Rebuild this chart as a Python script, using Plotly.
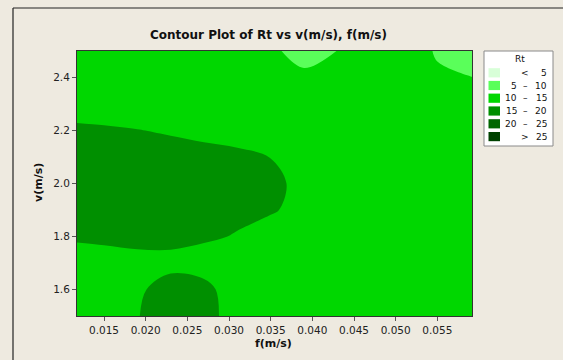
import plotly.graph_objects as go

# ---- data ----
f_vals = [0.011, 0.015, 0.019, 0.023, 0.027, 0.031, 0.035, 0.039, 0.043, 0.047, 0.051, 0.055, 0.059, 0.063]
v_vals = [1.5, 1.6, 1.7, 1.8, 1.9, 2.0, 2.1, 2.2, 2.3, 2.4, 2.5]
rt_v150 = [12.5, 12.6, 14.72, 18.5, 17.5, 11.94, 12.5, 12.4, 12.3, 12.3, 12.4, 12.5, 12.6, 12.6]
rt_v160 = [12.3, 12.5, 13.86, 18.0, 17.0, 11.3, 12.4, 12.4, 12.3, 12.3, 12.4, 12.5, 12.6, 12.6]
rt_v170 = [11.8, 11.9, 12.83, 13.0, 12.0, 12.6, 12.5, 12.5, 12.4, 12.4, 12.5, 12.6, 12.7, 12.7]
rt_v180 = [15.8, 16.5, 17.0, 17.0, 16.0, 14.58, 12.3, 12.5, 12.5, 12.5, 12.6, 12.7, 12.8, 12.8]
rt_v190 = [17.0, 17.5, 18.0, 18.0, 17.5, 16.5, 15.6, 13.2, 12.8, 12.7, 12.7, 12.8, 12.9, 12.9]
rt_v200 = [17.5, 18.0, 18.5, 18.5, 18.0, 17.0, 16.2, 13.67, 13.0, 12.8, 12.8, 12.9, 13.0, 13.0]
rt_v210 = [17.0, 17.5, 17.5, 17.0, 16.5, 16.0, 14.94, 13.2, 12.9, 12.8, 12.8, 12.9, 12.9, 12.9]
rt_v220 = [16.0, 15.8, 15.16, 14.5, 13.8, 13.14, 13.0, 12.8, 12.7, 12.7, 12.7, 12.7, 12.6, 12.5]
rt_v230 = [12.7, 11.8, 12.0, 12.5, 12.5, 12.5, 12.5, 12.3, 12.5, 12.8, 12.5, 12.2, 12.0, 11.8]
rt_v240 = [12.5, 12.4, 12.5, 12.6, 12.6, 12.5, 12.5, 11.0, 12.0, 12.5, 12.0, 10.39, 10.15, 9.5]
rt_v250 = [12.3, 12.3, 12.4, 12.5, 12.5, 12.0, 10.87, 8.2, 10.05, 11.8, 11.5, 9.74, 6.5, 6.0]
rt_grid = [rt_v150, rt_v160, rt_v170, rt_v180, rt_v190, rt_v200, rt_v210, rt_v220, rt_v230, rt_v240, rt_v250]

band_low = ["", "5", "10", "15", "20", ""]
band_sym = ["<", "\u2013", "\u2013", "\u2013", "\u2013", ">"]
band_high = ["5", "10", "15", "20", "25", "25"]
band_colors = ["#d8ffd8", "#5aff5a", "#00d700", "#008f00", "#006600", "#004200"]

x_ticks = [0.015, 0.020, 0.025, 0.030, 0.035, 0.040, 0.045, 0.050, 0.055]
y_ticks = [1.6, 1.8, 2.0, 2.2, 2.4]

# stepped colorscale 0..30
cs = []
for i, c in enumerate(band_colors):
    cs.append([i / 6, c])
    cs.append([(i + 1) / 6, c])

W, H = 563, 360
L, R, T, B = 77, 91, 51, 44
pw, ph = W - L - R, H - T - B

def px(x):
    return (x - L) / pw

def py(y):
    return (H - B - y) / ph

FONT = "DejaVu Sans"
BG = "#eeeae0"

fig = go.Figure()
fig.add_trace(go.Contour(
    x=f_vals, y=v_vals, z=rt_grid,
    colorscale=cs, zmin=0, zmax=30, showscale=False,
    autocontour=False,
    contours=dict(start=5, end=25, size=5, coloring="fill", showlines=False),
    line=dict(width=0, smoothing=1.0),
    hoverinfo="skip",
))

shapes = []
annotations = []

# outer frame (top and left edges only visible)
shapes.append(dict(type="line", xref="paper", yref="paper",
                   x0=px(13), x1=px(W), y0=py(8), y1=py(8),
                   line=dict(color="#222222", width=1.2)))
shapes.append(dict(type="line", xref="paper", yref="paper",
                   x0=px(13), x1=px(13), y0=py(8), y1=py(H),
                   line=dict(color="#222222", width=1.2)))

# legend box
shapes.append(dict(type="rect", xref="paper", yref="paper",
                   x0=px(484), x1=px(553), y0=py(146), y1=py(51),
                   line=dict(color="#8a8a8a", width=1), fillcolor="white"))
annotations.append(dict(text="Rt", xref="paper", yref="paper", x=px(520), y=py(59),
                        showarrow=False, xanchor="center", yanchor="middle",
                        font=dict(family=FONT, size=9, color="#111")))
row_y = [72.8, 85.5, 98.2, 111.0, 123.8, 136.6]
for i in range(6):
    yc = row_y[i]
    shapes.append(dict(type="rect", xref="paper", yref="paper",
                       x0=px(488.5), x1=px(500), y0=py(yc + 4.6), y1=py(yc - 4.6),
                       line=dict(width=0), fillcolor=band_colors[i]))
    if band_low[i]:
        annotations.append(dict(text=band_low[i], xref="paper", yref="paper", x=px(518.5), y=py(yc),
                                showarrow=False, xanchor="right", yanchor="middle",
                                font=dict(family=FONT, size=9, color="#111")))
    annotations.append(dict(text=band_sym[i], xref="paper", yref="paper", x=px(525), y=py(yc),
                            showarrow=False, xanchor="center", yanchor="middle",
                            font=dict(family=FONT, size=9, color="#111")))
    annotations.append(dict(text=band_high[i], xref="paper", yref="paper", x=px(549), y=py(yc),
                            showarrow=False, xanchor="right", yanchor="middle",
                            font=dict(family=FONT, size=9, color="#111")))

# title and axis titles
annotations.append(dict(text="<b>Contour Plot of Rt vs v(m/s), f(m/s)</b>", xref="paper", yref="paper",
                        x=px(268), y=py(35), showarrow=False, xanchor="center", yanchor="middle",
                        font=dict(family=FONT, size=12, color="#111")))
annotations.append(dict(text="<b>f(m/s)</b>", xref="paper", yref="paper",
                        x=px(273), y=py(343), showarrow=False, xanchor="center", yanchor="middle",
                        font=dict(family=FONT, size=11, color="#111")))
annotations.append(dict(text="<b>v(m/s)</b>", xref="paper", yref="paper",
                        x=px(38), y=py(183), showarrow=False, xanchor="center", yanchor="middle",
                        textangle=-90, font=dict(family=FONT, size=11, color="#111")))

fig.update_layout(
    width=W, height=H,
    margin=dict(l=L, r=R, t=T, b=B),
    paper_bgcolor=BG, plot_bgcolor=BG,
    showlegend=False,
    shapes=shapes, annotations=annotations,
    xaxis=dict(range=[0.01176, 0.05916], tickvals=x_ticks,
               ticktext=["%.3f" % t for t in x_ticks],
               ticks="outside", ticklen=4, tickcolor="#555", showgrid=False, zeroline=False,
               showline=True, mirror=True, linecolor="#333", linewidth=1,
               tickfont=dict(family=FONT, size=10.5, color="#222")),
    yaxis=dict(range=[1.5, 2.5], tickvals=y_ticks,
               ticktext=["%.1f" % t for t in y_ticks],
               ticks="outside", ticklen=4, tickcolor="#555", showgrid=False, zeroline=False,
               showline=True, mirror=True, linecolor="#333", linewidth=1,
               tickfont=dict(family=FONT, size=10.5, color="#222")),
)

fig.write_html("out.html", config={"displayModeBar": False})
